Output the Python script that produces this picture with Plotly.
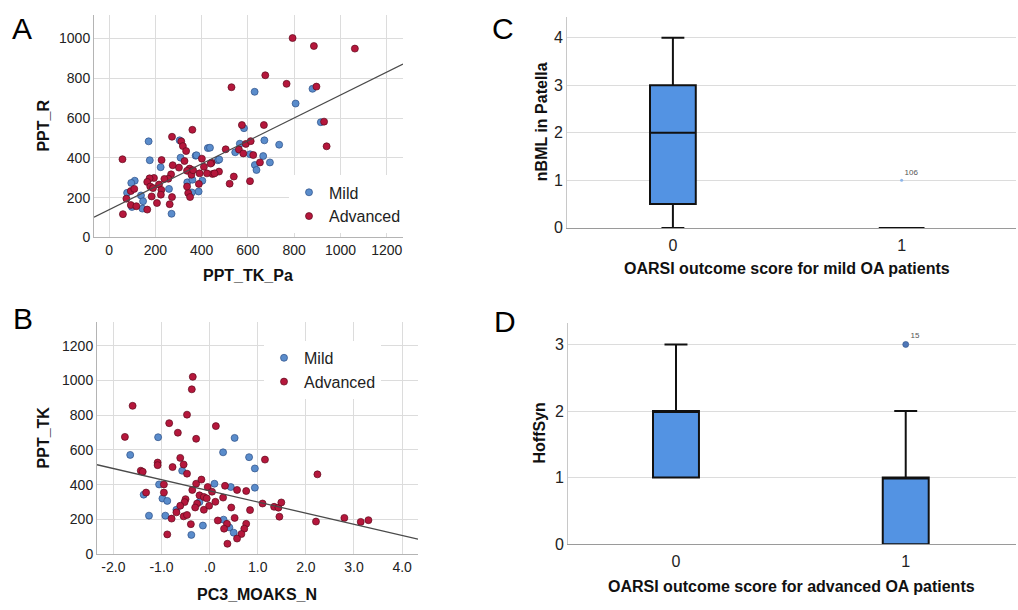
import plotly.graph_objects as go

W, H = 1018, 610
FONT = "Arial, 'Liberation Sans', sans-serif"

# ---------------- Panel A data (PPT_TK_Pa vs PPT_R) ----------------
mild_a_x = [171, 176, 223, 305, 309, 427, 374, 470, 111, 96, 78, 138, 147, 144, 99, 259, 270, 338,
            360, 387, 403, 629, 879, 806, 915, 583, 545, 565, 671, 735, 609, 666, 695, 630, 637, 476,
            436, 378, 358]
mild_a_y = [483, 388, 353, 488, 401, 449, 411, 388, 285, 274, 224, 211, 182, 145, 153, 244, 119, 277,
            290, 231, 285, 732, 747, 673, 579, 549, 428, 471, 488, 466, 418, 409, 377, 364, 339, 392,
            451, 413, 226]
adv_a_x = [529, 767, 896, 929, 940, 574, 669, 504, 561, 580, 591, 612, 623, 652, 443, 447, 475, 539,
           521, 609, 793, 885, 1062, 675, 360, 272, 312, 319, 333, 326, 302, 348, 337, 356, 363, 58,
           227, 275, 401, 410, 439, 456, 423, 391, 388, 268, 256, 239, 194, 175, 165, 178, 216, 190,
           226, 224, 272, 184, 207, 262, 94, 109, 75, 94, 118, 165, 60, 342, 350, 337]
adv_a_y = [755, 772, 758, 582, 458, 565, 565, 443, 442, 422, 470, 484, 414, 377, 376, 319, 331, 306,
           270, 283, 1002, 962, 949, 815, 541, 506, 483, 459, 434, 384, 351, 346, 335, 315, 338, 393,
           389, 363, 396, 355, 371, 322, 322, 322, 269, 317, 295, 294, 299, 297, 279, 256, 266, 248,
           239, 215, 203, 206, 173, 167, 233, 244, 195, 163, 157, 140, 117, 223, 203, 256]
fit_a = {"intercept": 139, "slope": 0.577}
xrange_a = [-65, 1270]
yrange_a = [0, 1119]
ticks_a_x = [0, 200, 400, 600, 800, 1000, 1200]
ticks_a_y = [0, 200, 400, 600, 800, 1000]

# ---------------- Panel B data (PC3_MOAKS_N vs PPT_TK) ----------------
mild_b_x = [-1.07, -1.65, -0.57, -1.05, -0.98, -0.88, -1.37, -0.69, -1.26, -0.92, -0.14, -0.38,
            0.52, 0.28, 0.82, 0.94, 0.10, 0.44, 0.94, -0.21, 0.29, 0.41, 0.50]
mild_b_y = [673, 571, 480, 401, 320, 306, 342, 255, 221, 221, 164, 110,
            669, 586, 558, 493, 405, 386, 382, 300, 198, 153, 123]
adv_b_x = [-0.35, -0.37, -1.60, -0.47, -0.84, -0.66, -1.76, -0.28, -0.61, -1.08, -1.08, -0.54,
           -0.77, -0.47, -1.43, -1.39, -0.95, -0.28, -0.17, -0.36, -0.95, -0.21, -0.12, -0.06,
           -1.32, -0.50, -0.52, -0.61, -0.26, -0.30, -0.12, -0.69, -0.54, -0.47, -0.79, -0.39,
           -0.88, 0.13, 1.15, 0.32, 0.57, 0.76, -0.04, 0.05, -0.01, 0.12, 0.28, 0.45, 0.52, 0.84,
           1.10, 1.34, 1.43, 1.49, 1.45, 0.17, 0.36, 0.30, 0.76, 0.72, 0.66, 0.57, 0.37,
           2.24, 2.21, 2.80, 3.14, 3.30]
adv_b_y = [1021, 949, 854, 803, 754, 699, 675, 664, 554, 527, 512, 516,
           501, 463, 480, 474, 401, 405, 429, 369, 354, 338, 329, 321,
           354, 316, 299, 278, 291, 268, 255, 240, 217, 225, 204, 172,
           113, 737, 544, 393, 369, 363, 386, 359, 278, 301, 325, 268, 208, 253,
           291, 272, 267, 297, 215, 193, 174, 146, 174, 146, 115, 89, 59,
           459, 187, 208, 185, 195]
fit_b = {"intercept": 364, "slope": -64.3}
xrange_b = [-2.34, 4.33]
yrange_b = [0, 1336]
ticks_b_x = [-2, -1, 0, 1, 2, 3, 4]
ticklabels_b_x = ["-2.0", "-1.0", ".0", "1.0", "2.0", "3.0", "4.0"]
ticks_b_y = [0, 200, 400, 600, 800, 1000, 1200]

# ---------------- Panel C data (box plot, nBML in Patella) ----------------
box_c_pos = [0, 1]
box_c_low = [0, 0]
box_c_q1 = [0.5, 0]
box_c_med = [2, 0]
box_c_q3 = [3, 0]
box_c_high = [4, 0]
out_c_x = [1]
out_c_y = [1]
out_c_lab = ["106"]

# ---------------- Panel D data (box plot, HoffSyn) ----------------
box_d_pos = [0, 1]
box_d_low = [1, 0]
box_d_q1 = [1, 0]
box_d_med = [2, 1]
box_d_q3 = [2, 1]
box_d_high = [3, 2]
out_d_x = [1]
out_d_y = [3]
out_d_lab = ["15"]

BLUE = "#5a8ccb"
BLUE_EDGE = "#2c4f86"
RED = "#b5173c"
RED_EDGE = "#5e0a1d"
BOX_FILL = "#5393e3"
GRID = "#dcdcdc"
AXLINE = "#b4b4b4"
TXT = "#222222"

fig = go.Figure()


def scatter(x, y, name, color, edge, xa, ya, legend):
    return go.Scatter(x=x, y=y, mode="markers", name=name, xaxis=xa, yaxis=ya, legend=legend,
                      marker=dict(size=7, color=color, line=dict(color=edge, width=0.7)))


# Panel A
fig.add_trace(scatter(mild_a_x, mild_a_y, "Mild", BLUE, BLUE_EDGE, "x", "y", "legend"))
fig.add_trace(scatter(adv_a_x, adv_a_y, "Advanced", RED, RED_EDGE, "x", "y", "legend"))
fig.add_trace(go.Scatter(x=xrange_a, y=[fit_a["intercept"] + fit_a["slope"] * v for v in xrange_a],
                         mode="lines", line=dict(color="#4a4a4a", width=1.3), showlegend=False,
                         xaxis="x", yaxis="y", hoverinfo="skip"))

# Panel B
fig.add_trace(scatter(mild_b_x, mild_b_y, "Mild", BLUE, BLUE_EDGE, "x2", "y2", "legend2"))
fig.add_trace(scatter(adv_b_x, adv_b_y, "Advanced", RED, RED_EDGE, "x2", "y2", "legend2"))
fig.add_trace(go.Scatter(x=xrange_b, y=[fit_b["intercept"] + fit_b["slope"] * v for v in xrange_b],
                         mode="lines", line=dict(color="#4a4a4a", width=1.3), showlegend=False,
                         xaxis="x2", yaxis="y2", hoverinfo="skip"))

# Panel C
fig.add_trace(go.Box(x=box_c_pos, q1=box_c_q1, median=box_c_med, q3=box_c_q3,
                     lowerfence=box_c_low, upperfence=box_c_high, orientation="v",
                     width=0.2, whiskerwidth=0.5, fillcolor=BOX_FILL,
                     line=dict(color="#111111", width=2), boxpoints=False, showlegend=False,
                     xaxis="x3", yaxis="y3"))
fig.add_trace(go.Scatter(x=out_c_x, y=out_c_y, mode="markers+text", text=out_c_lab,
                         textposition="top right", textfont=dict(size=8, color="#555555", family=FONT),
                         marker=dict(size=3, color="#8db6ea"), showlegend=False,
                         xaxis="x3", yaxis="y3"))

# Panel D
fig.add_trace(go.Box(x=box_d_pos, q1=box_d_q1, median=box_d_med, q3=box_d_q3,
                     lowerfence=box_d_low, upperfence=box_d_high, orientation="v",
                     width=0.2, whiskerwidth=0.5, fillcolor=BOX_FILL,
                     line=dict(color="#111111", width=2), boxpoints=False, showlegend=False,
                     xaxis="x4", yaxis="y4"))
fig.add_trace(go.Scatter(x=out_d_x, y=out_d_y, mode="markers+text", text=out_d_lab,
                         textposition="top right", textfont=dict(size=8, color="#555555", family=FONT),
                         marker=dict(size=6, color="#4f78b8", line=dict(color="#2c4f86", width=0.6)),
                         showlegend=False, xaxis="x4", yaxis="y4"))


def ax(domain, rng, **kw):
    d = dict(domain=domain, range=rng, showline=True, linecolor=AXLINE, linewidth=1,
             showgrid=True, gridcolor=GRID, gridwidth=1, zeroline=False, ticks="",
             tickfont=dict(size=14, color=TXT, family=FONT), fixedrange=True)
    d.update(kw)
    return d


fig.update_layout(
    width=W, height=H, margin=dict(l=0, r=0, t=0, b=0),
    paper_bgcolor="white", plot_bgcolor="white",
    font=dict(family=FONT, color=TXT),
    xaxis=ax([94 / W, 403 / W], xrange_a, anchor="y", tickvals=ticks_a_x),
    yaxis=ax([1 - 241 / H, 1 - 15 / H], yrange_a, anchor="x", tickvals=ticks_a_y),
    xaxis2=ax([97 / W, 418 / W], xrange_b, anchor="y2", tickvals=ticks_b_x, ticktext=ticklabels_b_x),
    yaxis2=ax([1 - 562.3 / H, 1 - 327 / H], yrange_b, anchor="x2", tickvals=ticks_b_y),
    xaxis3=ax([567 / W, 1016 / W], [-0.463, 1.5], anchor="y3", tickvals=[0, 1], showgrid=False,
              tickfont=dict(size=16, color=TXT, family=FONT), linecolor="#9a9a9a", ticklabelstandoff=3),
    yaxis3=ax([1 - 231.3 / H, 1 - 17 / H], [0, 4.44], anchor="x3", tickvals=[0, 1, 2, 3, 4],
              tickfont=dict(size=16, color=TXT, family=FONT), linecolor="#c8c8c8"),
    xaxis4=ax([568 / W, 1016 / W], [-0.47, 1.48], anchor="y4", tickvals=[0, 1], showgrid=False,
              tickfont=dict(size=16, color=TXT, family=FONT), linecolor="#9a9a9a", ticklabelstandoff=3),
    yaxis4=ax([1 - 552.3 / H, 1 - 328 / H], [0, 3.32], anchor="x4", tickvals=[0, 1, 2, 3],
              tickfont=dict(size=16, color=TXT, family=FONT), linecolor="#c8c8c8"),
    legend=dict(x=289 / W, y=1 - 178 / H, xanchor="left", yanchor="top", bgcolor="white",
                font=dict(size=16, color=TXT, family=FONT), itemwidth=30, tracegroupgap=0),
    legend2=dict(x=264 / W, y=1 - 346 / H, xanchor="left", yanchor="top", bgcolor="white",
                 font=dict(size=16, color=TXT, family=FONT), itemwidth=30, tracegroupgap=0),
    showlegend=True,
)

ann = [
    ("A", 22, 29, 30, False, 0), ("B", 23, 323, 30, False, 0),
    ("C", 503, 29, 30, False, 0), ("D", 505, 326, 30, False, 0),
    ("PPT_TK_Pa", 248, 280, 16, True, 0), ("PPT_R", 43.5, 128, 16, True, -90),
    ("PC3_MOAKS_N", 257, 603, 16, True, 0), ("PPT_TK", 43, 444, 16, True, -90),
    ("OARSI outcome score for mild OA patients", 787, 273, 16, True, 0),
    ("nBML in Patella", 541, 124, 16, True, -90),
    ("OARSI outcome score for advanced OA patients", 791, 595, 16, True, 0),
    ("HoffSyn", 540, 440, 16, True, -90),
]
for text, px, py, size, bold, angle in ann:
    fig.add_annotation(text=f"<b>{text}</b>" if bold else text, x=px / W, y=1 - py / H,
                       xref="paper", yref="paper", showarrow=False, textangle=angle,
                       xanchor="center", yanchor="middle",
                       font=dict(size=size, color="#111111" if bold else "#000000", family=FONT))

fig.write_html("out.html", config={"displayModeBar": False},
               post_script="document.body.style.margin='0';document.body.style.overflow='hidden';")
